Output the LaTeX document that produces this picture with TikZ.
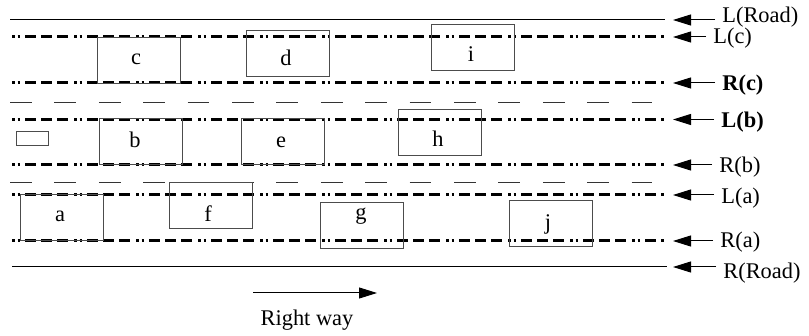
\documentclass[tikz,border=0pt]{standalone}
\usepackage{fontspec}
\setmainfont{Liberation Serif}
\usetikzlibrary{arrows.meta}

\begin{document}
\begin{tikzpicture}[x = 0.5pt,
    y = -0.5pt,
    font = \fontsize{11.2}{13.4}\selectfont,
    line cap = butt]
  \useasboundingbox (0,0) rectangle (809,336);
  % styles of road marks, vehicles and labels
  \tikzset{roadedge/.style={black,line width=0.5pt},
    lanemark/.style={black!80,line width=0.5pt,dash pattern=on 10.85pt off 11.35pt},
    laneborder/.style={black,line width=1.5pt,
      dash pattern=on 1.25pt off 1.5pt on 1.25pt off 2.5pt on 5.5pt off 2.5pt on 5.5pt off 2.5pt on 5.5pt off 3pt},
    car/.style={draw=black!70,line width=0.5pt,minimum width=41.5pt,minimum height=23pt,inner sep=0pt},
    carlabel/.style={anchor=base,inner sep=0pt},
    sidelabel/.style={anchor=west,inner xsep=3.5pt,inner ysep=0pt},
    pointer/.style={-{Triangle[length=9pt,width=5.5pt]},line width=0.5pt,black}}
  % road edges
  \draw[roadedge] (10,20) -- (665,20);
  \draw[roadedge] (12,267) -- (667,267);
  % lane borders
  \foreach \y in {37,83,119.5,165,195,241}
    \draw[laneborder] (12,\y) -- (664,\y);
  % lane marks
  \foreach \y in {103,183}
    \draw[lanemark] (10,\y) -- (652,\y);
  % vehicles
  \foreach \n/\cx/\cy in {c/138.5/60.5, d/287.5/54, i/473/47.5,
      b/140.5/142, e/282.5/142, h/439.5/133,
      a/61.5/218, f/210.5/206, g/361.5/226, j/550.5/224}
    \node[car] (\n) at (\cx,\cy) {};
  \node[car,minimum width=16pt,minimum height=7pt] (small) at (32,139) {};
  % names of vehicles
  \foreach \n/\lx/\ly in {c/136/65, d/286/66, i/471/62,
      b/135/148, e/281/148, h/438/147,
      a/60/222, f/208/222, g/361/220, j/548/230}
    \node[carlabel] (\n-name) at (\lx,\ly) {\n};
  % labels of the lines
  \foreach \n/\ty/\lx/\ly/\txt in {lroad/20/715/17/{L(Road)},
      lc/37/706/38/{L(c)},
      rc/83/715/85/{\textbf{R(c)}},
      lb/119.5/714/122/{\textbf{L(b)}},
      rb/165/712/167/{R(b)},
      la/195/714/198/{L(a)},
      ra/241/713/242/{R(a)},
      rroad/267/716/273/{R(Road)}}
  {
    \coordinate (\n-tip) at (673,\ty);
    \node[sidelabel] (\n) at (\lx,\ly) {\txt};
    \draw[pointer] (\n.west |- \n-tip) -- (\n-tip);
  }
  % direction
  \coordinate (way-start) at (253,293);
  \coordinate (way-end) at (377,293);
  \draw[pointer] (way-start) -- (way-end);
  \node[anchor=base] (way) at (307,326) {Right way};
\end{tikzpicture}
\end{document}
